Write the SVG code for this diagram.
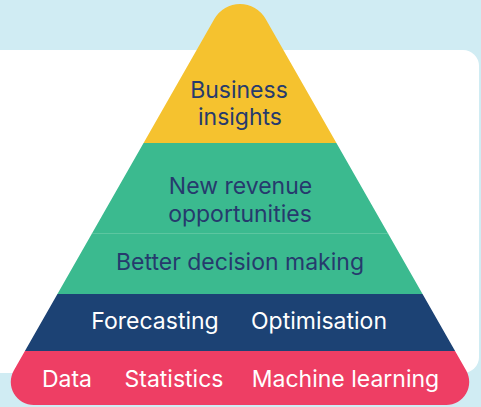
<svg xmlns="http://www.w3.org/2000/svg" width="481" height="407" viewBox="0 0 481 407">
  <style>
    .lbl { font-family: Inter, "Liberation Sans", sans-serif; font-size: 23px; text-anchor: middle; }
    .dark { fill: #263a6d; }
    .light { fill: #ffffff; }
  </style>
  <defs>
    <clipPath id="pyr">
      <path d="M 214.46 18.84 A 29.4 29.4 0 0 1 265.54 18.84 L 466.2 370.6 A 23 23 0 0 1 446.2 405 L 33.8 405 A 23 23 0 0 1 13.8 370.6 Z"/>
    </clipPath>
  </defs>
  <rect x="0" y="0" width="481" height="407" fill="#d0ecf3"/>
  <rect id="card" x="-20" y="50" width="499" height="323" rx="16" fill="#ffffff"/>
  <g clip-path="url(#pyr)">
    <g id="business-insights">
      <rect x="0" y="0" width="481" height="143" fill="#f5c22f"/>
      <text class="lbl dark" x="239" y="97.5">Business</text>
      <text class="lbl dark" x="240" y="125">insights</text>
    </g>
    <g id="new-revenue">
      <rect x="0" y="143" width="481" height="90" fill="#3bba8f"/>
      <text class="lbl dark" x="240.5" y="194">New revenue</text>
      <text class="lbl dark" x="240" y="221.5">opportunities</text>
    </g>
    <g id="better-decision">
      <rect x="0" y="233" width="481" height="61" fill="#3bba8f"/>
      <line x1="0" y1="233.5" x2="481" y2="233.5" stroke="#5cc6a0" stroke-width="1"/>
      <text class="lbl dark" x="240" y="270">Better decision making</text>
    </g>
    <g id="forecasting-optimisation">
      <rect x="0" y="294" width="481" height="57" fill="#1c4274"/>
      <text class="lbl light" x="155" y="329">Forecasting</text>
      <text class="lbl light" x="319" y="329">Optimisation</text>
    </g>
    <g id="data-layer">
      <rect x="0" y="351" width="481" height="56" fill="#ee3e64"/>
      <text class="lbl light" x="67" y="387">Data</text>
      <text class="lbl light" x="174" y="387">Statistics</text>
      <text class="lbl light" x="345.5" y="387">Machine learning</text>
    </g>
  </g>
  <g id="connectors"/>
</svg>
